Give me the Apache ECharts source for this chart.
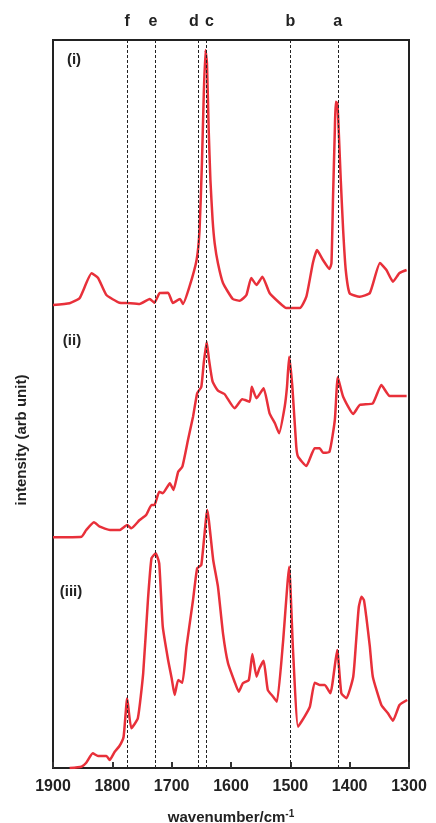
<!DOCTYPE html>
<html>
<head>
<meta charset="utf-8">
<title>spectra</title>
<script src="https://cdn.jsdelivr.net/npm/echarts@6/dist/echarts.min.js"></script>
<style>
    html, body { margin: 0; padding: 0; background: #fff; }
    #main { width: 436px; height: 823px; }
</style>
</head>
<body>
<div id="main"></div>
<script>
// wavenumber (cm-1) / intensity pairs, spectra already offset
var waveI = [1900, 1872, 1855, 1835, 1824, 1810, 1788, 1776, 1754, 1737, 1729, 1720, 1706, 1698, 1686, 1681,
    1670, 1658, 1653, 1649, 1646, 1643, 1640.5, 1637.6, 1634.7, 1631, 1627.5, 1622, 1613.5, 1597, 1585, 1574,
    1566, 1557, 1547, 1535, 1518, 1507, 1484, 1473, 1462, 1455, 1445, 1434, 1430.7, 1428, 1425, 1423.5, 1420.7,
    1418.5, 1415, 1411, 1406.6, 1400, 1383, 1366, 1349, 1338, 1327, 1316, 1304];
var intI = [463, 464.7, 470, 494.7, 490, 473, 465.3, 465, 464, 469, 465.3, 475, 475.3, 465, 469, 464,
    481.3, 508, 538, 604.7, 671.3, 718, 704.7, 638, 588, 548, 524.7, 504.7, 485, 469, 467.3, 473,
    490, 483, 491.3, 475, 465, 460, 460, 471.3, 505, 518, 508, 499, 504.7, 571.3, 638, 666.3, 664.7,
    638, 588, 538, 498, 474.7, 471.3, 475, 505, 498, 486.3, 495, 498];

var waveII = [1900, 1852, 1844, 1831, 1821, 1804, 1788, 1775, 1768, 1754, 1743, 1734, 1729, 1721, 1715, 1703,
    1697, 1689, 1682, 1672.5, 1664, 1657, 1650, 1646, 1641, 1637, 1631, 1622, 1611, 1594, 1581, 1568.5, 1565,
    1557, 1545, 1535, 1526, 1519, 1509.5, 1505.6, 1502, 1496.6, 1490, 1487, 1473, 1459, 1450.5, 1445, 1434,
    1425, 1420, 1411, 1394, 1383, 1361, 1346.6, 1332.5, 1304];
var intII = [230.7, 231.3, 238, 245.7, 241.3, 238, 238, 243, 239.7, 248, 253, 263, 263, 276.3, 274.7, 284.7,
    278, 296.3, 301.3, 328, 351.3, 374.7, 381.3, 404.7, 426.3, 408, 386.3, 377.3, 374, 359.7, 368.7, 366.3, 381.3,
    369.7, 379.7, 354.7, 344.7, 334.7, 361.3, 381.3, 411.3, 381.3, 321.3, 311.3, 302, 319.7, 319.7, 315.3, 316.3,
    348, 390.7, 371.3, 354, 363, 364.7, 383, 372, 372];

var waveIII = [1872, 1852, 1844, 1833, 1824, 1810, 1804.5, 1796, 1788, 1781, 1775, 1768, 1757, 1748, 1740,
    1734, 1727, 1721, 1715, 1706, 1700, 1695, 1689, 1682, 1675, 1664, 1657, 1650, 1640, 1630, 1622, 1613.5,
    1605, 1594, 1587, 1580, 1570, 1564, 1557, 1552, 1545, 1538, 1529, 1522.5, 1512.5, 1502, 1495.5, 1487,
    1476, 1467, 1459, 1450.5, 1442, 1432.5, 1421, 1414, 1405.5, 1394, 1389, 1384.6, 1380, 1376, 1372, 1366,
    1361, 1346.6, 1335.5, 1327, 1316, 1303];
var intIII = [0, 1.3, 5.3, 14.7, 12, 12, 8, 16.3, 22, 31.3, 69.7, 39.7, 49.7, 94.7, 168,
    209.7, 214.7, 204.7, 141.3, 108, 89.7, 73, 88, 85.3, 121.3, 168, 199.7, 203, 258, 208, 181.3, 134.7,
    104.7, 86.3, 76.3, 84.7, 88, 114, 91.3, 99.7, 107.3, 78, 71.3, 66.3, 124.7, 201.3, 118, 41.3,
    51.3, 61.3, 85.3, 83, 83, 74.7, 118, 74.7, 69.7, 91.3, 128, 161, 171.3, 168, 151.3, 121.3,
    91.3, 63, 54.7, 47.3, 63, 68];

var peakNames = ['f', 'e', 'd', 'c', 'b', 'a'];
var peakWaves = [1775, 1728, 1656, 1641.5, 1500, 1420];
var xTicks = [1900, 1800, 1700, 1600, 1500, 1400, 1300];

function pairs(w, v) {
    var out = [];
    for (var i = 0; i < w.length; i++) out.push([w[i], v[i]]);
    return out;
}

var labelShift = { f: 0, e: -2, d: -4, c: 3, b: 0, a: 0 };
var markData = peakWaves.map(function (w, i) {
    return {
        xAxis: w,
        name: peakNames[i],
        label: { offset: [labelShift[peakNames[i]], 0] }
    };
});

var red = '#e8303a';
var font = 'Liberation Sans, Arial, sans-serif';

var myChart = echarts.init(document.getElementById('main'));
var option = {
    animation: false,
    grid: {
        left: 53, right: 27, top: 40, bottom: 55,
        outerBoundsMode: 'none',
        show: true, borderColor: '#222', borderWidth: 2
    },
    xAxis: {
        type: 'value',
        min: 1300, max: 1900, interval: 100,
        inverse: true,
        name: '{a|wavenumber/cm}{s|-1}',
        nameLocation: 'middle',
        nameGap: 41,
        nameTextStyle: {
            rich: {
                a: { fontSize: 15, fontWeight: 'bold', fontFamily: font, color: '#222' },
                s: { fontSize: 10, fontWeight: 'bold', fontFamily: font, color: '#222', verticalAlign: 'top', padding: [0, 0, 8, 0] }
            }
        },
        axisLine: { show: true, lineStyle: { color: '#222', width: 2 } },
        axisTick: { show: true, inside: true, length: 6, lineStyle: { color: '#333', width: 2 } },
        axisLabel: {
            fontSize: 16, fontWeight: 'bold', fontFamily: font, color: '#222', margin: 11,
            formatter: function (v) { return xTicks.indexOf(v) >= 0 ? String(v) : ''; }
        },
        splitLine: { show: false }
    },
    yAxis: {
        type: 'value',
        min: 0, max: 728,
        axisLine: { show: false },
        axisTick: { show: false },
        axisLabel: { show: false },
        splitLine: { show: false }
    },
    graphic: [
        {
            type: 'text', x: 22, y: 440, rotation: Math.PI / 2,
            style: { text: 'intensity (arb unit)', font: 'bold 15px ' + font, fill: '#222', textAlign: 'center', textVerticalAlign: 'middle' }
        },
        { type: 'text', x: 74, y: 60, style: { text: '(i)', font: 'bold 15px ' + font, fill: '#222', textAlign: 'center', textVerticalAlign: 'middle' } },
        { type: 'text', x: 72, y: 341, style: { text: '(ii)', font: 'bold 15px ' + font, fill: '#222', textAlign: 'center', textVerticalAlign: 'middle' } },
        { type: 'text', x: 71, y: 592, style: { text: '(iii)', font: 'bold 15px ' + font, fill: '#222', textAlign: 'center', textVerticalAlign: 'middle' } }
    ],
    series: [
        {
            name: '(i)', type: 'line', showSymbol: false, smooth: 0.15,
            lineStyle: { color: red, width: 2.5 },
            data: pairs(waveI, intI),
            markLine: {
                silent: true,
                symbol: ['none', 'none'],
                lineStyle: { color: '#222', width: 1, type: [3, 2] },
                label: {
                    show: true, position: 'end', distance: 10, formatter: '{b}',
                    fontSize: 16, fontWeight: 'bold', fontFamily: font, color: '#222'
                },
                data: markData
            }
        },
        {
            name: '(ii)', type: 'line', showSymbol: false, smooth: 0.15,
            lineStyle: { color: red, width: 2.5 },
            data: pairs(waveII, intII)
        },
        {
            name: '(iii)', type: 'line', showSymbol: false, smooth: 0.15,
            lineStyle: { color: red, width: 2.5 },
            data: pairs(waveIII, intIII)
        }
    ]
};

myChart.setOption(option);
window.addEventListener('resize', function () {
    myChart.resize();
});
</script>
</body>
</html>
